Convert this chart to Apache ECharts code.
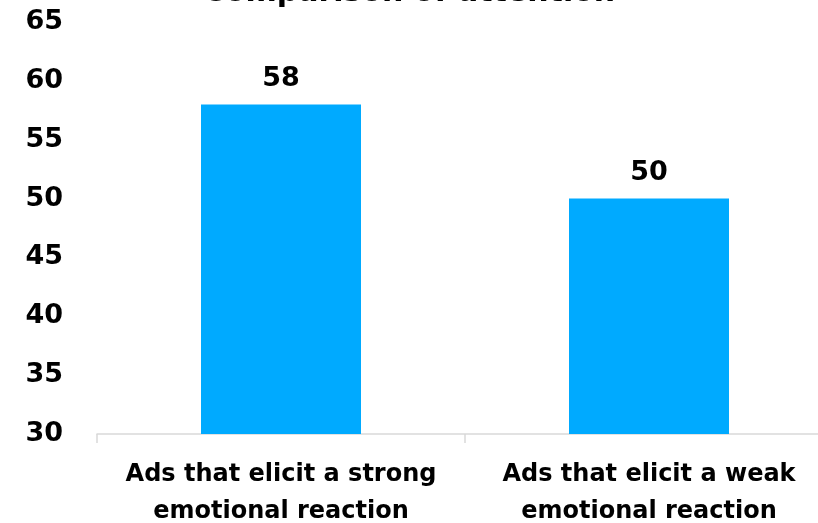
<!DOCTYPE html>
<html>
<head>
<meta charset="utf-8">
<script src="https://cdn.jsdelivr.net/npm/echarts@6/dist/echarts.min.js"></script>
<style>
  html, body { margin: 0; padding: 0; background: #fff; }
  #main { width: 818px; height: 523px; }
</style>
</head>
<body>
<div id="main"></div>
<script>
const categories = ["Ads that elicit a strong\nemotional reaction", "Ads that elicit a weak\nemotional reaction"];
const values = [58, 50];
const chartTitle = "Comparison of attention";

let myChart = echarts.init(document.getElementById("main"));
myChart.setOption({
  animation: false,
  title: {
    text: chartTitle,
    left: "center",
    top: -27,
    textStyle: {
      fontFamily: "DejaVu Sans",
      fontWeight: "bold",
      fontSize: 30,
      color: "#000"
    }
  },
  grid: {
    left: 97,
    right: -15,
    top: 22,
    bottom: 89,
    outerBoundsMode: "none",
    containLabel: false
  },
  xAxis: {
    type: "category",
    data: categories,
    boundaryGap: true,
    axisLine: { lineStyle: { color: "#d9d9d9", width: 1.5 } },
    axisTick: { show: true, interval: 0, length: 9, lineStyle: { color: "#d9d9d9", width: 1.5 } },
    axisLabel: {
      interval: 0,
      hideOverlap: false,
      margin: 22,
      fontFamily: "DejaVu Sans",
      fontWeight: "bold",
      fontSize: 24,
      lineHeight: 37,
      color: "#000"
    }
  },
  yAxis: {
    type: "value",
    min: 30,
    max: 65,
    interval: 5,
    axisLine: { show: false },
    axisTick: { show: false },
    splitLine: { show: false },
    axisLabel: {
      margin: 34,
      fontFamily: "DejaVu Sans",
      fontWeight: "bold",
      fontSize: 27,
      color: "#000"
    }
  },
  series: [
    {
      type: "bar",
      data: values,
      barWidth: 160,
      itemStyle: { color: "#00aaff" },
      label: {
        show: true,
        position: "top",
        distance: 12,
        fontFamily: "DejaVu Sans",
        fontWeight: "bold",
        fontSize: 27,
        color: "#000"
      }
    }
  ]
});
</script>
</body>
</html>
